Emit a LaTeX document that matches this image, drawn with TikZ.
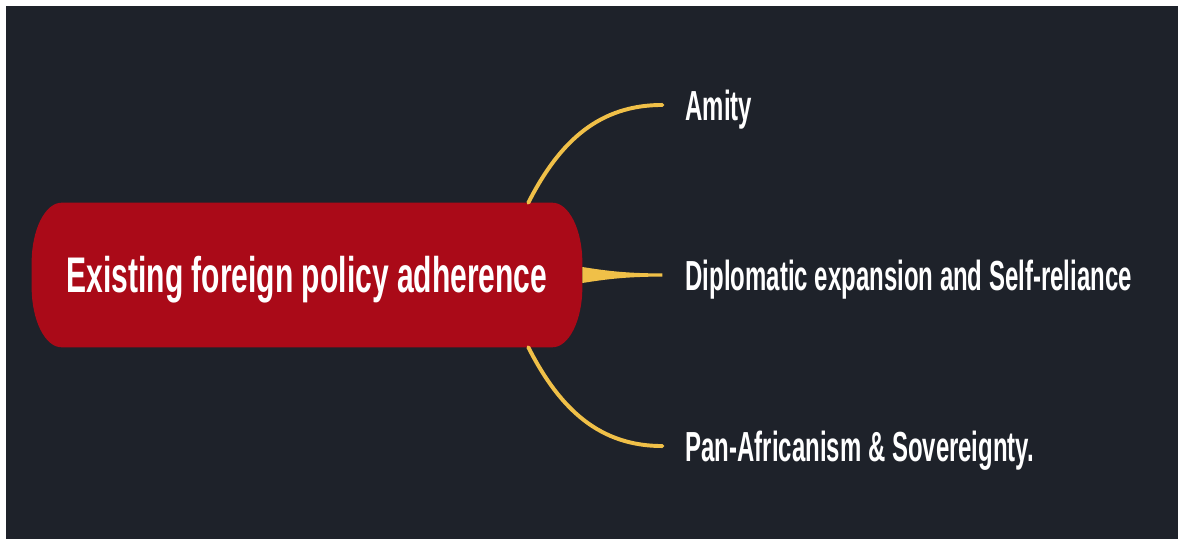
\documentclass[tikz,border=0pt]{standalone}
\usepackage{fontspec}
\setmainfont{Liberation Sans}
\usepackage{graphicx}
\usetikzlibrary{positioning}
\definecolor{boardbg}{RGB}{30,34,42}
\definecolor{hubred}{RGB}{170,10,24}
\definecolor{branchgold}{RGB}{240,192,72}
\newcommand{\narrowtext}[2]{\scalebox{#1}[1]{#2}}
\pgfdeclarelayer{background}
\pgfsetlayers{background,main}
\tikzset{
        x=0.025cm, y=-0.025cm, % one unit is one pixel of the screenshot, y runs down
        node distance=2cm, % gap between the hub and the middle branch
        hub/.style={minimum width=13.75cm, minimum height=3.6cm, inner sep=0pt, text=white, font=\fontsize{35.6}{36}\selectfont\bfseries, text height=25.5pt, text depth=0pt}, % the red centre node
        leaf/.style={inner xsep=0.575cm, inner ysep=0pt, text=white, font=\fontsize{29.9}{30}\selectfont\bfseries, text height=21.4pt, text depth=0pt}, % the branch labels
        branch/.style={draw=branchgold, line width=2.8pt, line cap=round}, % the curved branches
    }
\begin{document}
\begin{tikzpicture}
    \useasboundingbox (0,0) rectangle (1178,539);
    \node[hub] (hub) at (307,275) {\narrowtext{0.6}{Existing foreign policy adherence}};
    \node[leaf, right=of hub] (diplo) {\narrowtext{0.57}{Diplomatic expansion and Self-reliance}};
    \node[leaf, above=4.25cm of diplo.west, anchor=west] (amity) {\narrowtext{0.57}{Amity}};
    \node[leaf, below=4.275cm of diplo.west, anchor=west] (pan) {\narrowtext{0.57}{Pan-Africanism \& Sovereignty.}};
    \begin{pgfonlayer}{background}
        \fill[white] (0,0) rectangle (1178,539);
        \fill[boardbg] (6,6) rectangle (1190,550);
        % red hub with oval ends
        \fill[hubred] ([xshift=0.75cm]hub.north west) -- ([xshift=-0.75cm]hub.north east)
            arc[start angle=90, end angle=0, x radius=0.75cm, y radius=1.5cm]
            -- ([yshift=1.5cm]hub.south east)
            arc[start angle=0, end angle=-90, x radius=0.75cm, y radius=1.5cm]
            -- ([xshift=0.75cm]hub.south west)
            arc[start angle=270, end angle=180, x radius=0.75cm, y radius=1.5cm]
            -- ([yshift=-1.5cm]hub.north west)
            arc[start angle=180, end angle=90, x radius=0.75cm, y radius=1.5cm] -- cycle;
    \end{pgfonlayer}
    \draw[branch] ([xshift=-1.35cm]hub.north east) .. controls +(32,-63) and +(-62,0) .. (amity.west);
    \draw[branch] ([xshift=-1.35cm]hub.south east) .. controls +(32,63) and +(-62,0) .. (pan.west);
    \fill[branchgold] ([yshift=0.2cm]hub.east) .. controls +(25,4) and +(-35,0) .. ([yshift=0.04cm]diplo.west)
        -- ([yshift=-0.04cm]diplo.west) .. controls +(-35,0) and +(25,-4) .. ([yshift=-0.2cm]hub.east) -- cycle;
\end{tikzpicture}
\end{document}
